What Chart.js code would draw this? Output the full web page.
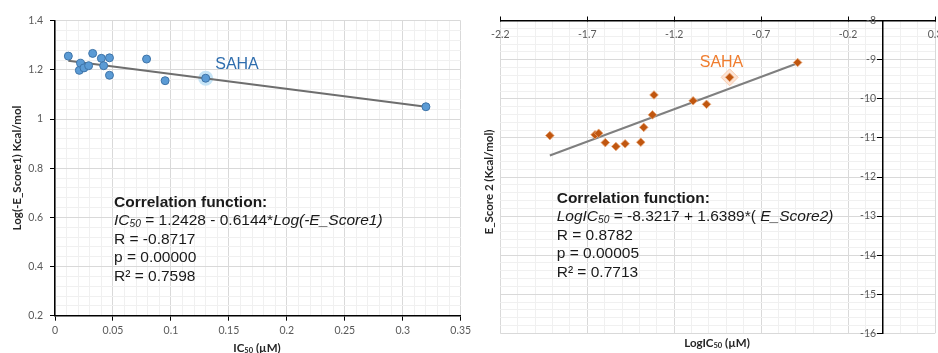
<!DOCTYPE html>
<html>
<head>
<meta charset="utf-8">
<script src="https://cdn.jsdelivr.net/npm/chart.js@4.4.1/dist/chart.umd.min.js"></script>
<style>
  html, body { margin: 0; padding: 0; background: #fff; overflow: hidden; width: 938px; height: 353px; }
  .box { position: absolute; top: 0; height: 353px; }
  #leftBox { left: 0; width: 478px; }
  #rightBox { left: 478px; width: 480px; }
</style>
</head>
<body>
<div class="box" id="leftBox"><canvas id="chartLeft"></canvas></div>
<div class="box" id="rightBox"><canvas id="chartRight"></canvas></div>
<script>
  // left panel: IC50 vs Log(-E_Score1)
  var ic50 = [0.0115, 0.021, 0.022, 0.025, 0.029, 0.0325, 0.040, 0.042, 0.047, 0.047, 0.079, 0.095, 0.130, 0.320];
  var logScore1 = [1.256, 1.198, 1.227, 1.208, 1.217, 1.267, 1.247, 1.217, 1.249, 1.178, 1.244, 1.156, 1.166, 1.050];
  var sahaLeft = [0.130, 1.166];
  var trendLeftX = [0.0115, 0.320];
  var trendLeftY = [1.237, 1.050];
  var statsLeft = ['R = -0.8717', 'p = 0.00000', 'R\u00b2 = 0.7598'];

  // right panel: LogIC50 vs E_Score2
  var logIc50 = [-1.915, -1.655, -1.634, -1.596, -1.535, -1.482, -1.392, -1.375, -1.325, -1.316, -1.091, -1.014, -0.881, -0.490];
  var score2 = [-10.94, -10.92, -10.88, -11.12, -11.22, -11.15, -11.11, -10.73, -10.41, -9.90, -10.05, -10.14, -9.45, -9.07];
  var sahaRight = [-0.881, -9.45];
  var trendRightX = [-1.915, -0.490];
  var trendRightY = [-11.45, -9.09];
  var statsRight = ['R = 0.8782', 'p = 0.00005', 'R\u00b2 = 0.7713'];

  Chart.defaults.font.family = 'Lato';
  Chart.defaults.color = '#595959';

  var gridMajor = '#d9d9d9';
  var gridMinor = '#f0f0f0';
  var textFont = '"Liberation Sans", Arial, sans-serif';

  function zip(xs, ys) {
    return xs.map(function (x, i) { return {x: x, y: ys[i]}; });
  }
  function isMajor(v, step) {
    var r = v / step;
    return Math.abs(r - Math.round(r)) < 1e-6;
  }
  function fmt(v) {
    return String(parseFloat(v.toFixed(2)));
  }

  // draws a run of text pieces (italic / bold / subscript)
  function fontFor(p, size, fam) {
    var fs = p.sub ? size * 0.66 : size;
    return (p.it ? 'italic ' : '') + (p.b ? 'bold ' : '') + fs + 'px ' + fam;
  }
  function richWidth(ctx, parts, size, fam) {
    var w = 0;
    parts.forEach(function (p) {
      ctx.font = fontFor(p, size, fam);
      w += ctx.measureText(p.t).width;
    });
    return w;
  }
  function drawRich(ctx, x, y, parts, size, fam) {
    ctx.textAlign = 'left';
    ctx.textBaseline = 'middle';
    parts.forEach(function (p) {
      ctx.font = fontFor(p, size, fam);
      ctx.fillText(p.t, x, y + (p.sub ? size * 0.22 : 0));
      x += ctx.measureText(p.t).width;
    });
  }

  function notesPlugin(cfg) {
    return {
      id: 'notes',
      afterDraw: function (chart) {
        var ctx = chart.ctx;
        ctx.save();
        // y axis title (rotated)
        ctx.save();
        ctx.translate(cfg.yTitle.x, cfg.yTitle.y);
        ctx.rotate(-Math.PI / 2);
        ctx.fillStyle = '#262626';
        ctx.font = 'bold 11.5px Lato';
        ctx.textAlign = 'center';
        ctx.textBaseline = 'middle';
        ctx.fillText(cfg.yTitle.text, 0, 0);
        ctx.restore();
        // x axis title
        ctx.fillStyle = '#262626';
        var xw = richWidth(ctx, cfg.xTitle.parts, 11.5, 'Lato');
        drawRich(ctx, cfg.xTitle.x - xw / 2, cfg.xTitle.y, cfg.xTitle.parts, 11.5, 'Lato');
        // SAHA label
        ctx.fillStyle = cfg.saha.color;
        ctx.font = '16px ' + textFont;
        ctx.textAlign = 'center';
        ctx.textBaseline = 'middle';
        ctx.fillText('SAHA', cfg.saha.x, cfg.saha.y);
        // correlation block
        ctx.fillStyle = '#1a1a1a';
        var y = cfg.block.y;
        drawRich(ctx, cfg.block.x, y, [{t: 'Correlation function:', b: true}], 15.5, textFont);
        y += 18.6;
        drawRich(ctx, cfg.block.x, y, cfg.block.formula, 15.5, textFont);
        cfg.block.stats.forEach(function (s) {
          y += 18.6;
          drawRich(ctx, cfg.block.x, y, [{t: s}], 15.5, textFont);
        });
        ctx.restore();
      }
    };
  }

  new Chart(document.getElementById('chartLeft'), {
    type: 'scatter',
    data: {
      datasets: [{
        data: zip(ic50, logScore1),
        pointRadius: 4,
        backgroundColor: '#5B9BD5',
        borderColor: '#3F74A8',
        borderWidth: 1
      },
      {
        data: zip(trendLeftX, trendLeftY),
        showLine: true,
        pointRadius: 0,
        borderColor: '#6e6e6e',
        borderWidth: 2
      },
      {
        data: [{x: sahaLeft[0], y: sahaLeft[1]}],
        pointRadius: 7.5,
        backgroundColor: '#c6e4f6',
        borderWidth: 0
      }]
    },
    options: {
      responsive: true,
      maintainAspectRatio: false,
      animation: false,
      events: [],
      layout: { padding: { left: 0, top: 20.7, right: 17.3, bottom: 0 } },
      plugins: { legend: { display: false }, tooltip: { enabled: false } },
      scales: {
        x: {
          type: 'linear',
          min: 0,
          max: 0.35,
          ticks: {
            stepSize: 0.01,
            autoSkip: false,
            maxRotation: 0,
            padding: 4,
            font: { size: 10.5 },
            callback: function (v) { return isMajor(v, 0.05) ? fmt(v) : ''; }
          },
          grid: {
            color: function (c) { return isMajor(c.tick.value, 0.05) ? gridMajor : gridMinor; },
            tickColor: function (c) { return isMajor(c.tick.value, 0.05) ? '#000' : 'rgba(0,0,0,0)'; },
            tickLength: 5
          },
          border: { color: '#000', width: 1.5 },
          afterFit: function (s) { s.height = 37.3; }
        },
        y: {
          type: 'linear',
          min: 0.2,
          max: 1.4,
          ticks: {
            stepSize: 0.04,
            autoSkip: false,
            padding: 7,
            font: { size: 10.5 },
            callback: function (v) { return isMajor(v, 0.2) ? String(parseFloat(v.toFixed(1))) : ''; }
          },
          grid: {
            color: function (c) { return isMajor(c.tick.value, 0.2) ? gridMajor : gridMinor; },
            tickColor: function (c) { return isMajor(c.tick.value, 0.2) ? '#000' : 'rgba(0,0,0,0)'; },
            tickLength: 5
          },
          border: { color: '#000', width: 1.5 },
          afterFit: function (s) { s.width = 55; }
        }
      }
    },
    plugins: [notesPlugin({
      yTitle: { x: 17, y: 168, text: 'Log(-E_Score1) Kcal/mol' },
      xTitle: { x: 257, y: 348, parts: [{t: 'IC', b: true}, {t: '50', b: true, sub: true}, {t: ' (\u00b5M)', b: true}] },
      saha: { x: 237, y: 65, color: '#2F6DAD' },
      block: {
        x: 114, y: 202.3,
        formula: [{t: 'IC', it: true}, {t: '50', it: true, sub: true}, {t: ' = 1.2428 - 0.6144*'}, {t: 'Log(-E_Score1)', it: true}],
        stats: statsLeft
      }
    })]
  });

  new Chart(document.getElementById('chartRight'), {
    type: 'scatter',
    data: {
      datasets: [{
        data: zip(logIc50, score2),
        pointStyle: 'rectRot',
        pointRadius: 4.3,
        backgroundColor: '#C0560F',
        borderColor: '#E9A676',
        borderWidth: 0.8
      },
      {
        data: zip(trendRightX, trendRightY),
        showLine: true,
        pointRadius: 0,
        borderColor: '#7F7F7F',
        borderWidth: 2
      },
      {
        data: [{x: sahaRight[0], y: sahaRight[1]}],
        pointStyle: 'rectRot',
        pointRadius: 8.5,
        backgroundColor: '#FCE4D6',
        borderColor: '#F8CBAD',
        borderWidth: 1
      }]
    },
    options: {
      responsive: true,
      maintainAspectRatio: false,
      animation: false,
      events: [],
      layout: { padding: { left: 22, top: 20.7, right: 23, bottom: 19.7 } },
      plugins: { legend: { display: false }, tooltip: { enabled: false } },
      scales: {
        x: {
          type: 'linear',
          min: -2.2,
          max: 0.3,
          position: { y: -8 },
          ticks: {
            stepSize: 0.1,
            autoSkip: false,
            maxRotation: 0,
            padding: 13,
            font: { size: 10.5 },
            callback: function (v) { return isMajor(v + 2.2, 0.5) ? fmt(v) : ''; }
          },
          grid: {
            color: function (c) { return isMajor(c.tick.value + 2.2, 0.5) ? gridMajor : gridMinor; },
            tickColor: function (c) { return isMajor(c.tick.value + 2.2, 0.5) ? '#000' : 'rgba(0,0,0,0)'; },
            tickLength: -5
          },
          border: { color: '#000', width: 1.5 }
        },
        y: {
          type: 'linear',
          min: -16,
          max: -8,
          position: { x: 0 },
          ticks: {
            stepSize: 0.2,
            autoSkip: false,
            font: { size: 10.5 },
            callback: function (v) { return isMajor(v, 1) ? String(Math.round(v)) + '\u2007\u200A' : ''; }
          },
          grid: {
            color: function (c) { return isMajor(c.tick.value, 1) ? gridMajor : gridMinor; },
            tickColor: function (c) { return isMajor(c.tick.value, 1) ? '#000' : 'rgba(0,0,0,0)'; },
            tickLength: 5
          },
          border: { color: '#000', width: 1.5 }
        }
      }
    },
    plugins: [notesPlugin({
      yTitle: { x: 11, y: 182, text: 'E_Score 2 (Kcal/mol)' },
      xTitle: { x: 239, y: 343, parts: [{t: 'LogIC', b: true}, {t: '50', b: true, sub: true}, {t: ' (\u00b5M)', b: true}] },
      saha: { x: 243.5, y: 63, color: '#F07D2E' },
      block: {
        x: 78.7, y: 198.3,
        formula: [{t: 'LogIC', it: true}, {t: '50', it: true, sub: true}, {t: ' = -8.3217 + 1.6389*( '}, {t: 'E_Score2)', it: true}],
        stats: statsRight
      }
    })]
  });
</script>
</body>
</html>
